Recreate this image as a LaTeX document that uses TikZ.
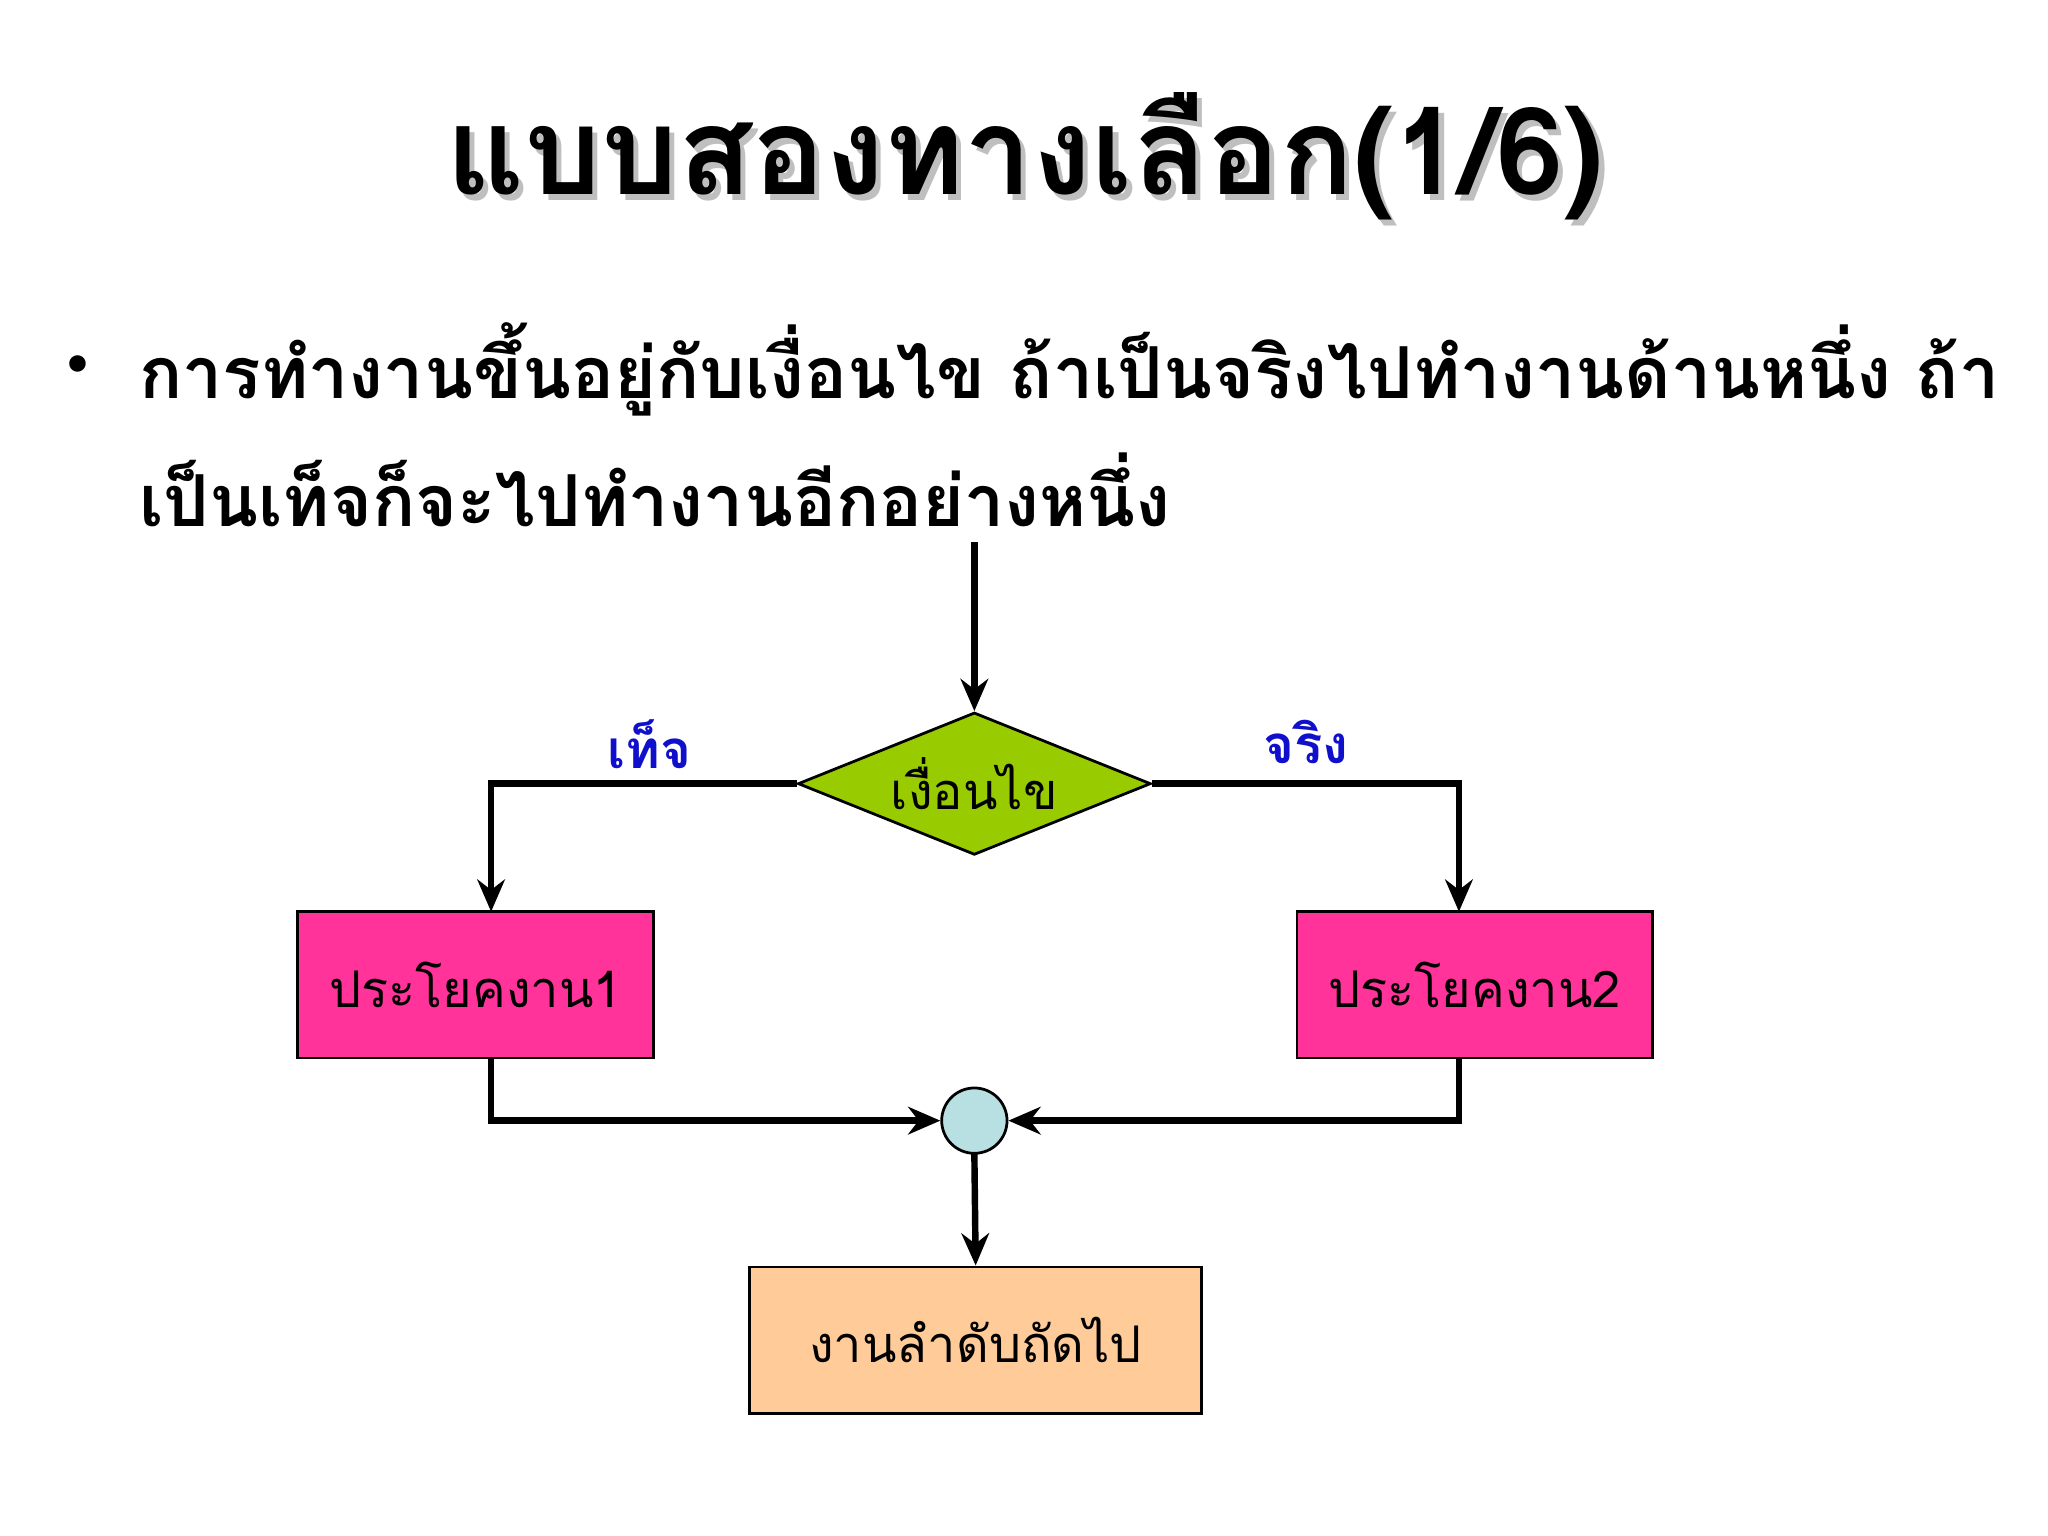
\documentclass[tikz,border=0pt]{standalone}
\usepackage{fontspec}
\newfontfamily\thai[Script=Thai]{Loma}
\usetikzlibrary{shapes.geometric,arrows.meta}
\definecolor{dgreen}{HTML}{99CC00}
\definecolor{pinkbox}{HTML}{FF3399}
\definecolor{peach}{HTML}{FFCC99}
\definecolor{cyanc}{HTML}{B8E0E3}
\definecolor{lblue}{HTML}{1010CC}
\tikzset{
  conn/.style={line width=1.4pt,-{Stealth[length=7pt,width=6pt]}},
  pbox/.style={draw,line width=0.6pt,fill=pinkbox,minimum width=2.72cm,minimum height=1.12cm,inner sep=0,font=\thai\fontsize{11}{13}\selectfont},
  lbl/.style={text=lblue,font=\thai\bfseries\fontsize{11.5}{13}\selectfont}
}
\begin{document}
\begin{tikzpicture}[x=0.01cm,y=-0.01cm]
\fill[white] (0,0) rectangle (1568,1176);
\useasboundingbox (0,0) rectangle (1568,1176);
% title
\node[text=gray!50,font=\thai\bfseries\fontsize{26.4}{30}\selectfont] at (789,124) {แบบสองทางเลือก(1/6)};
\node (title) [font=\thai\bfseries\fontsize{26.4}{30}\selectfont] at (785,120) {แบบสองทางเลือก(1/6)};
% bullet
\node (bul) [font=\fontsize{16}{18}\selectfont] at (60,283) {\textbullet};
\node (l1) [anchor=west,inner sep=0,font=\thai\bfseries\fontsize{15.6}{18}\selectfont] at (106,283) {การทำงานขึ้นอยู่กับเงื่อนไข ถ้าเป็นจริงไปทำงานด้านหนึ่ง ถ้า};
\node (l2) [anchor=west,inner sep=0,font=\thai\bfseries\fontsize{15.6}{18}\selectfont] at (106,375) {เป็นเท็จก็จะไปทำงานอีกอย่างหนึ่ง};
% diagram
\coordinate (start) at (746,415);
\node (cond) [diamond,draw,line width=0.6pt,fill=dgreen,shape aspect=1.85,minimum width=2.7cm,inner sep=0,font=\thai\fontsize{11}{13}\selectfont] at (746,600) {เงื่อนไข};
\node (b1) [pbox] at (364,754) {ประโยคงาน1};
\node (b2) [pbox] at (1129,754) {ประโยคงาน2};
\node (j) [circle,draw,line width=0.6pt,fill=cyanc,minimum size=0.5cm,inner sep=0] at (746,858) {};
\node (b3) [draw,line width=0.6pt,fill=peach,minimum width=3.46cm,minimum height=1.12cm,inner sep=0,font=\thai\fontsize{11}{13}\selectfont] at (747,1026) {งานลำดับถัดไป};
\node (lf) [lbl] at (497,570) {เท็จ};
\node (lt) [lbl] at (1000,568) {จริง};
\draw[conn] (start) -- (cond.north);
\draw[conn] (cond.west) -- (376,600) -- (376,698);
\draw[conn] (cond.east) -- (1117,600) -- (1117,698);
\draw[conn] (376,810) -- (376,858) -- (j.west);
\draw[conn] (1117,810) -- (1117,858) -- (j.east);
\draw[conn] (746,883) -- (b3.north);
\end{tikzpicture}
\end{document}
